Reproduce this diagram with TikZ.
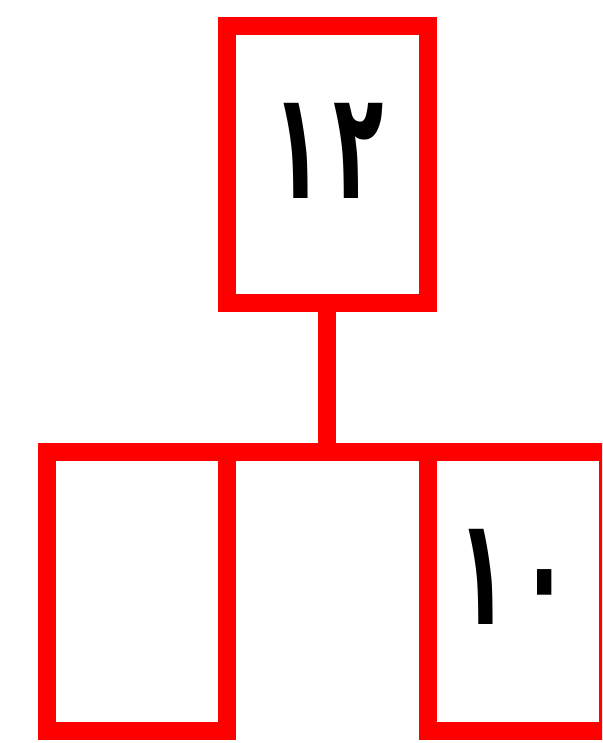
\documentclass[tikz,border=0pt]{standalone}
\usepackage{graphicx}
\usepackage{fontspec}
\newfontfamily\arabicfont[Script=Arabic]{DejaVu Sans}
\begin{document}
\begin{tikzpicture}[x=1pt,y=1pt,
  box/.style={draw=red, line width=18pt, minimum width=180pt, minimum height=279pt, inner sep=0pt, outer sep=0pt},
  link/.style={draw=red, line width=18pt},
  digits/.style={font=\arabicfont\bfseries\fontsize{150}{150}\selectfont, inner sep=0pt}]
\clip (0,0) rectangle (602,743);
\useasboundingbox (0,0) rectangle (602,743);
\node[box, minimum width=201pt, minimum height=277pt] (top) at (327,578) {};
\node[box] (left) at (137,151.5) {};
\node[box] (right) at (517.5,151.5) {};
\node[digits] (t1) at (328.5,592.5) {\scalebox{0.55}[1]{۱\kern20pt۲}};
\node[digits] (t2) at (513.5,166.5) {\scalebox{0.55}[1]{۱\kern22pt۰}};
\draw[link] (top.south) -- (top.south |- left.north);
\draw[link] (left.north east) -- (right.north west);
\end{tikzpicture}
\end{document}
